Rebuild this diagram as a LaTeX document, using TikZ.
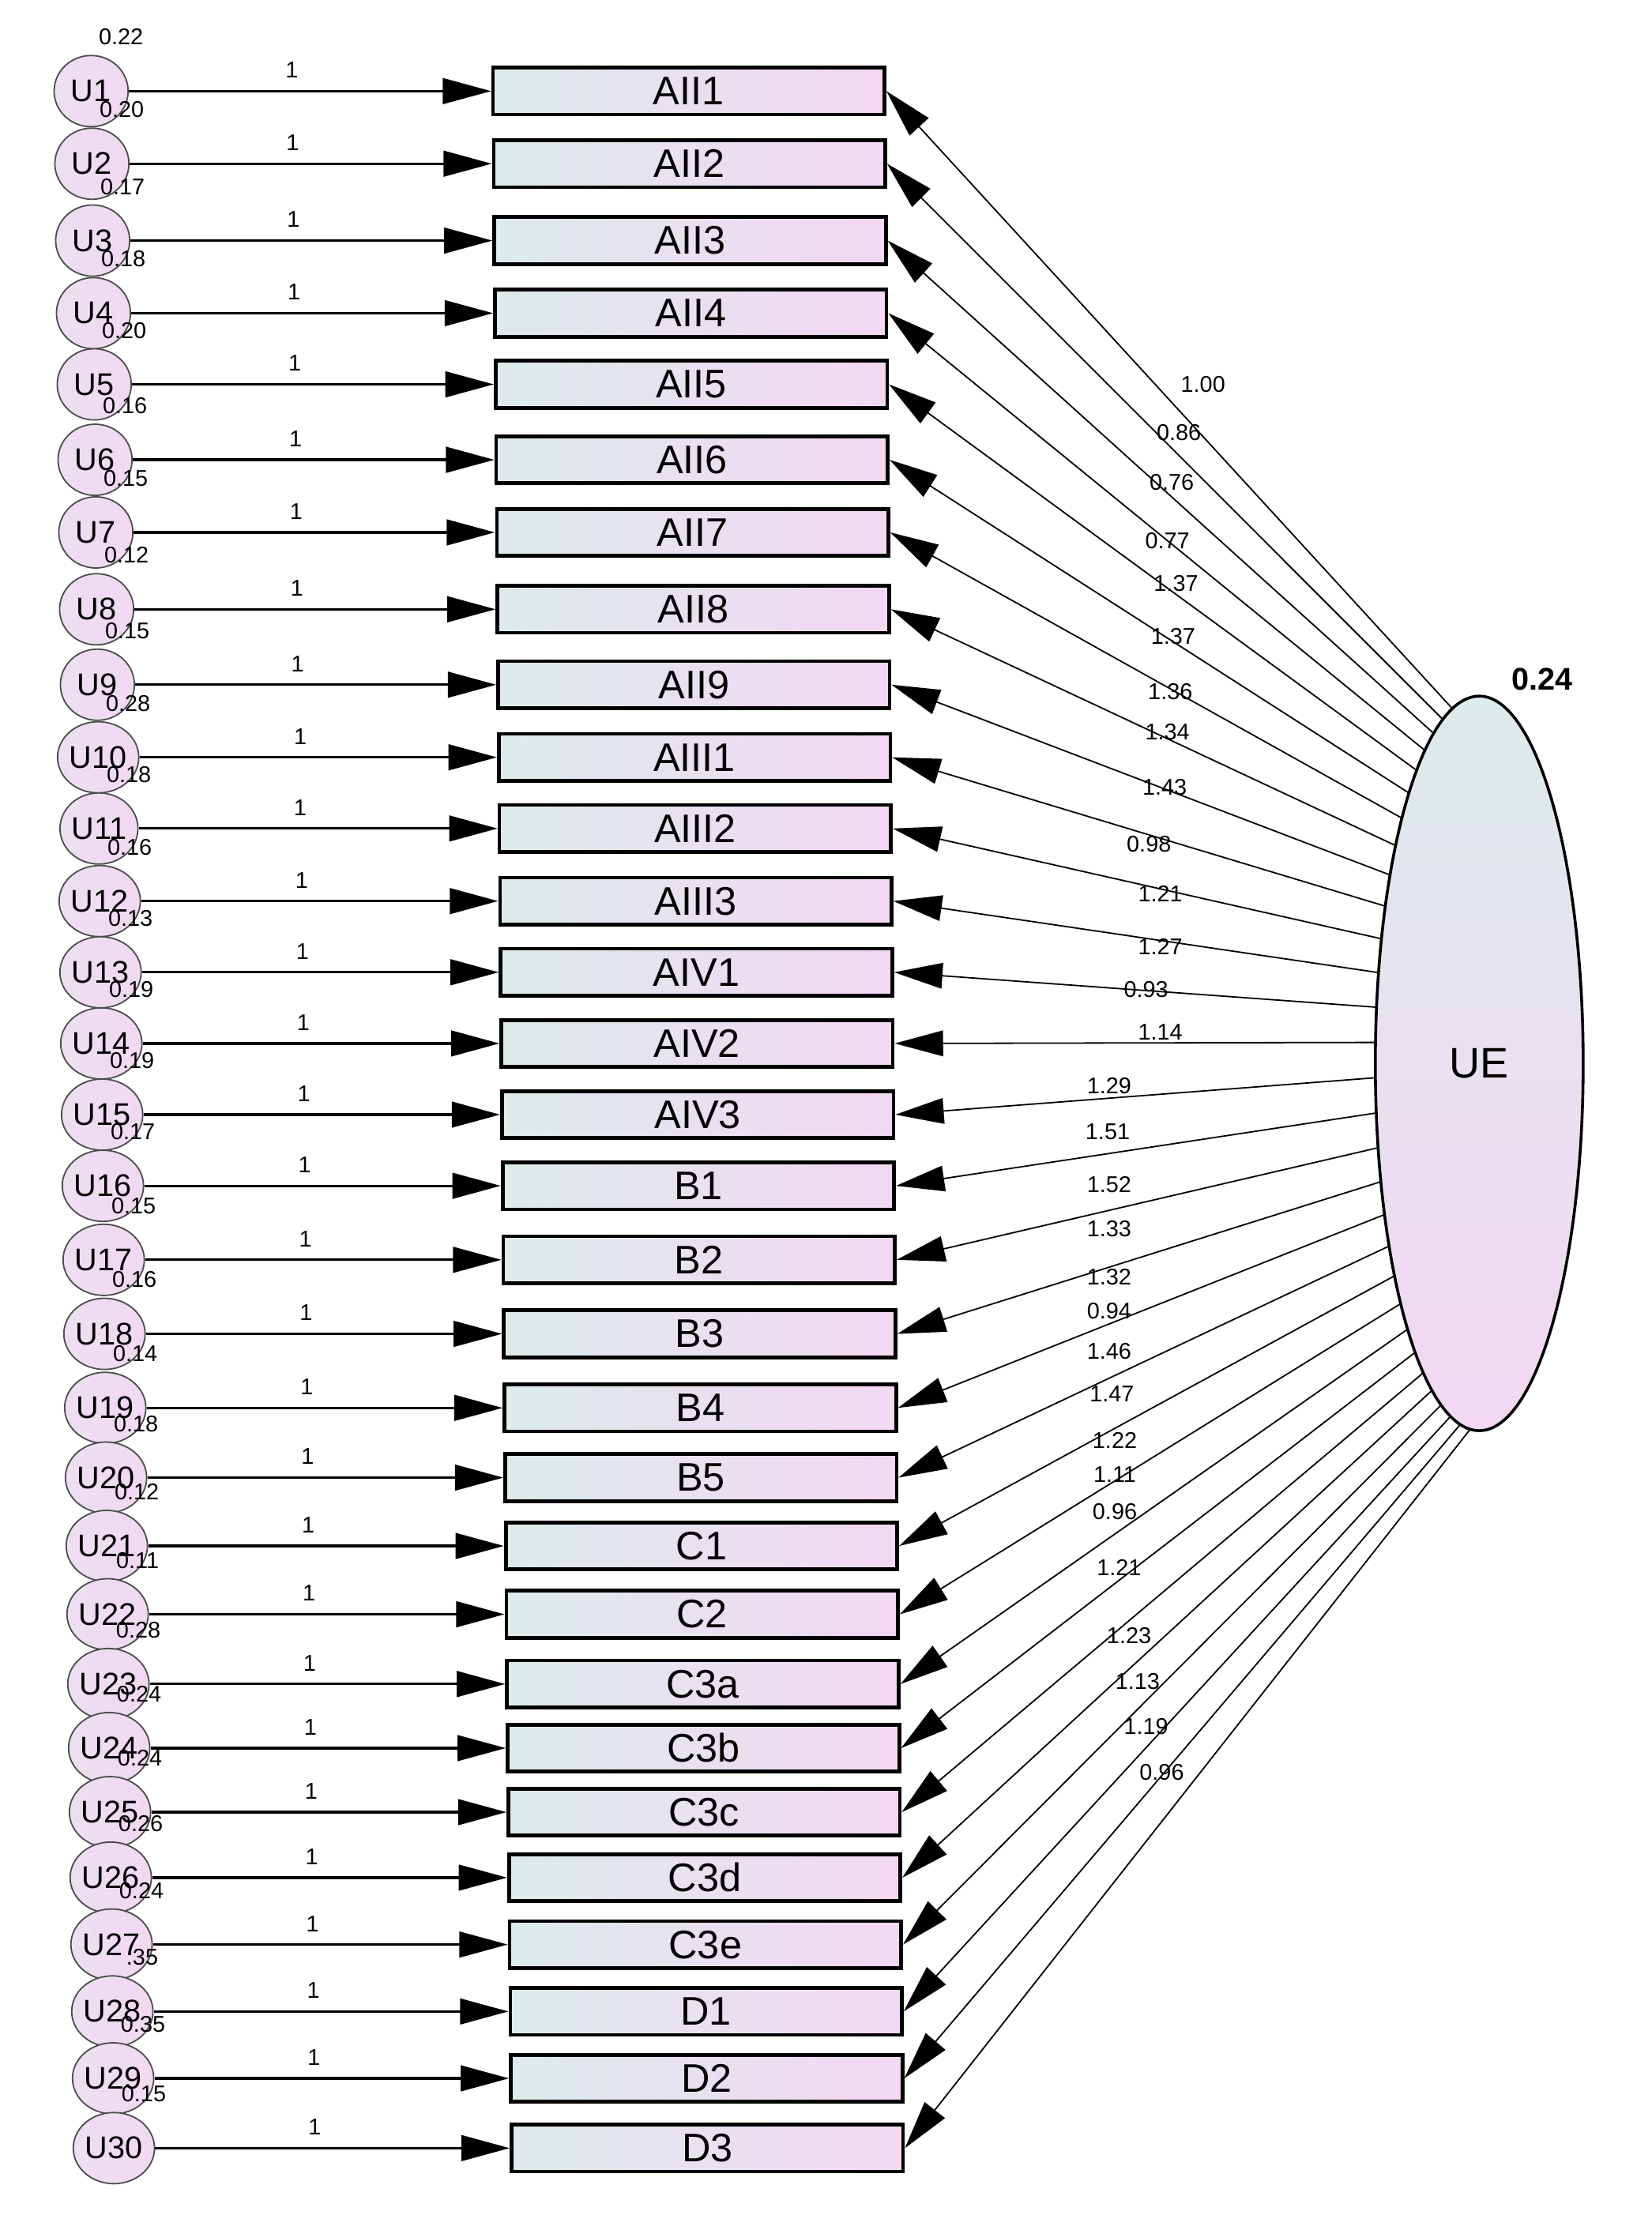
\documentclass[tikz,border=0pt]{standalone}
\usepackage{fontspec}
\setmainfont{Liberation Sans}
\usetikzlibrary{arrows.meta,shapes.geometric}
\definecolor{lc}{HTML}{DDEBEA}
\definecolor{pk}{HTML}{F3D7F3}
\definecolor{lav}{HTML}{ECDFF0}
\tikzset{
 box/.style={draw, line width=2.6pt, left color=lc, right color=pk, minimum width=275pt, minimum height=33pt, inner sep=0pt, anchor=west, font=\fontsize{28}{30}\selectfont},
 uc/.style={draw=black!70, line width=1pt, ellipse, left color=lav, right color=pk!80!lav, minimum width=52pt, minimum height=50pt, inner sep=0pt, font=\fontsize{22}{24}\selectfont},
 harr/.style={line width=1.8pt, -{Triangle[length=34pt,width=18pt]}},
 larr/.style={line width=1pt, -{Triangle[length=34pt,width=18pt]}},
 small/.style={font=\fontsize{16}{17}\selectfont},
}
\begin{document}
\begin{tikzpicture}[x=1pt,y=-1pt]
\useasboundingbox (0,0) rectangle (1160,1556);
\node[draw, line width=2pt, ellipse, top color=lc, bottom color=pk, minimum width=146pt, minimum height=516pt, inner sep=0pt, font=\fontsize{30}{32}\selectfont] (UE) at (1039,747) {UE};
\node[font=\bfseries\fontsize{22}{24}\selectfont] (ve) at (1083,477) {0.24};
\foreach \i/\y/\lab/\v/\l/\lx/\ly in {
1/64/AII1/0.22/1.00/845/270,
2/115/AII2/0.20/0.86/828/304,
3/169/AII3/0.17/0.76/823/339,
4/220/AII4/0.18/0.77/820/380,
5/270/AII5/0.20/1.37/826/410,
6/323/AII6/0.16/1.37/824/447,
7/374/AII7/0.15/1.36/822/486,
8/428/AII8/0.12/1.34/820/514,
9/481/AII9/0.15/1.43/818/553,
10/532/AIII1/0.28/0.98/807/593,
11/582/AIII2/0.18/1.21/815/628,
12/633/AIII3/0.16/1.27/815/665,
13/683/AIV1/0.13/0.93/805/695,
14/733/AIV2/0.19/1.14/815/725,
15/783/AIV3/0.19/1.29/779/763,
16/833/B1/0.17/1.51/778/795,
17/885/B2/0.15/1.52/779/832,
18/937/B3/0.16/1.33/779/863,
19/989/B4/0.14/1.32/779/897,
20/1038/B5/0.18/0.94/779/921,
21/1086/C1/0.12/1.46/779/949,
22/1134/C2/0.11/1.47/781/979,
23/1183/C3a/0.28/1.22/783/1012,
24/1228/C3b/0.24/1.11/783/1036,
25/1273/C3c/0.24/0.96/783/1062,
26/1319/C3d/0.26/1.21/786/1101,
27/1366/C3e/0.24/1.23/793/1149,
28/1413/D1/.35/1.13/799/1181,
29/1460/D2/0.35/1.19/805/1213,
30/1509/D3/0.15/0.96/816/1245}{
 \pgfmathsetmacro\bl{345+13*(\i-1)/29}
 \pgfmathsetmacro\ux{64+16*(\i-1)/29}
 \pgfmathsetmacro\th{105+160*(\i-1)/29}
 \node[box] (b\i) at (\bl,\y) {\lab};
 \node[uc] (u\i) at (\ux,\y) {U\i};
 \draw[harr] (u\i) -- (b\i.west) node[pos=0.45, above=5pt, small] {1};
 \node[small] (v\i) at (\ux+21,\y-38) {\v};
 \coordinate (s\i) at ({1039+73*cos(\th)},{747-258*sin(\th)});
 \draw[larr] (s\i) -- (b\i.east);
 \node[small] (l\i) at (\lx,\ly) {\l};
}
\end{tikzpicture}
\end{document}
